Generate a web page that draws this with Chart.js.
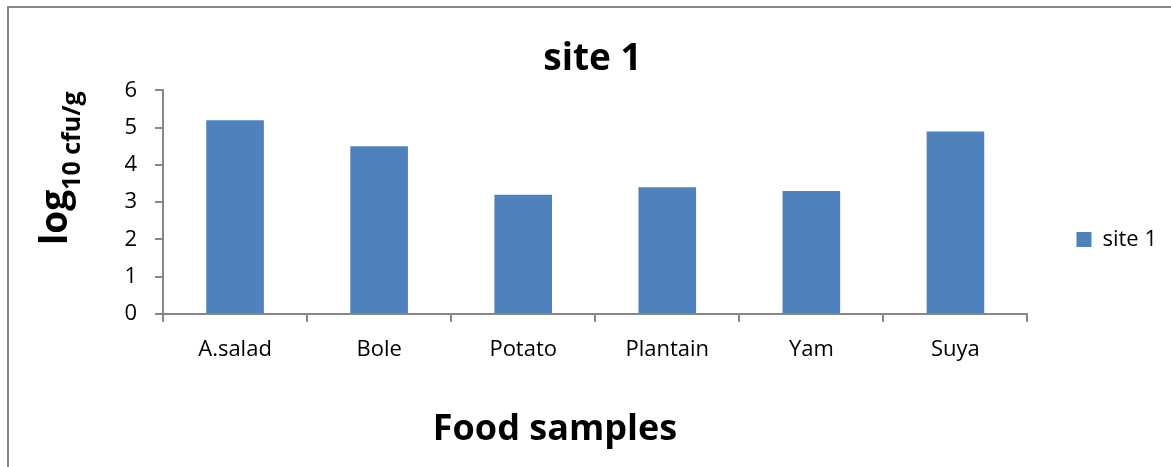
<!DOCTYPE html>
<html>
<head>
<meta charset="utf-8">
<title>site 1</title>
<script src="https://cdn.jsdelivr.net/npm/chart.js@4.4.1/dist/chart.umd.min.js"></script>
<style>
  html, body { margin: 0; padding: 0; background: #ffffff; }
  #wrap { width: 1171px; height: 467px; }
</style>
</head>
<body>
<div id="wrap"><canvas id="chart" width="1171" height="467"></canvas></div>
<script>
// Food samples and their counts (log10 cfu/g) at site 1
const categories = ['A.salad', 'Bole', 'Potato', 'Plantain', 'Yam', 'Suya'];
const site1 = [5.2, 4.5, 3.2, 3.4, 3.3, 4.9];
const seriesName = 'site 1';
const chartTitle = 'site 1';
const xTitle = 'Food samples';
const yTitleMain = 'log';
const yTitleSub = '10 cfu/g';
const yMin = 0, yMax = 6, yStep = 1;

const FONT = "'Open Sans', 'DejaVu Sans', sans-serif";
const AXIS_GREY = '#878787';

// Outer frame plus the two axis titles (the y title needs a subscript)
const decorations = {
  id: 'decorations',
  beforeDraw(chart) {
    const ctx = chart.ctx;
    ctx.save();
    ctx.fillStyle = AXIS_GREY;
    ctx.fillRect(7, 6, chart.width - 7, 2);
    ctx.fillRect(7, 6, 2, chart.height - 6);
    ctx.restore();
  },
  afterDraw(chart) {
    const ctx = chart.ctx;
    ctx.save();
    ctx.fillStyle = '#000000';
    // x axis title
    ctx.font = 'bold 36px ' + FONT;
    ctx.textAlign = 'center';
    ctx.textBaseline = 'alphabetic';
    ctx.fillText(xTitle, 555, 440);
    // y axis title, rotated, with subscript
    ctx.translate(67, 245);
    ctx.rotate(-Math.PI / 2);
    ctx.textAlign = 'left';
    ctx.font = 'bold 37px ' + FONT;
    ctx.fillText(yTitleMain, 0, 0);
    const w = ctx.measureText(yTitleMain).width;
    ctx.font = 'bold 25px ' + FONT;
    ctx.fillText(yTitleSub, w, 13);
    ctx.restore();
  }
};

new Chart(document.getElementById('chart'), {
  type: 'bar',
  data: {
    labels: categories,
    datasets: [{
      label: seriesName,
      data: site1,
      backgroundColor: '#4F81BD',
      borderWidth: 0,
      barPercentage: 0.4,
      categoryPercentage: 1.0
    }]
  },
  options: {
    responsive: false,
    animation: false,
    layout: { padding: { top: 12, left: 18, right: 4, bottom: 0 } },
    plugins: {
      title: {
        display: true,
        text: chartTitle,
        color: '#000000',
        font: { family: FONT, size: 37, weight: 'bold' },
        padding: { top: 25, bottom: 9 }
      },
      legend: {
        display: true,
        position: 'right',
        labels: {
          color: '#000000',
          font: { family: FONT, size: 22 },
          boxWidth: 15,
          boxHeight: 15,
          padding: 49
        }
      },
      tooltip: { enabled: false }
    },
    scales: {
      x: {
        afterFit(scale) { scale.height = 153; },
        grid: {
          display: true,
          drawOnChartArea: false,
          drawTicks: true,
          tickLength: 8,
          color: AXIS_GREY,
          lineWidth: 2,
          offset: true
        },
        border: { display: true, color: AXIS_GREY, width: 2 },
        ticks: {
          color: '#000000',
          font: { family: FONT, size: 22 },
          padding: 15,
          maxRotation: 0,
          autoSkip: false
        }
      },
      y: {
        min: yMin,
        max: yMax,
        afterFit(scale) { scale.width = 145; },
        grid: {
          display: true,
          drawOnChartArea: false,
          drawTicks: true,
          tickLength: 8,
          color: AXIS_GREY,
          lineWidth: 2
        },
        border: { display: true, color: AXIS_GREY, width: 2 },
        ticks: {
          stepSize: yStep,
          color: '#000000',
          font: { family: FONT, size: 22 },
          padding: 18
        }
      }
    }
  },
  plugins: [decorations]
});
</script>
</body>
</html>
